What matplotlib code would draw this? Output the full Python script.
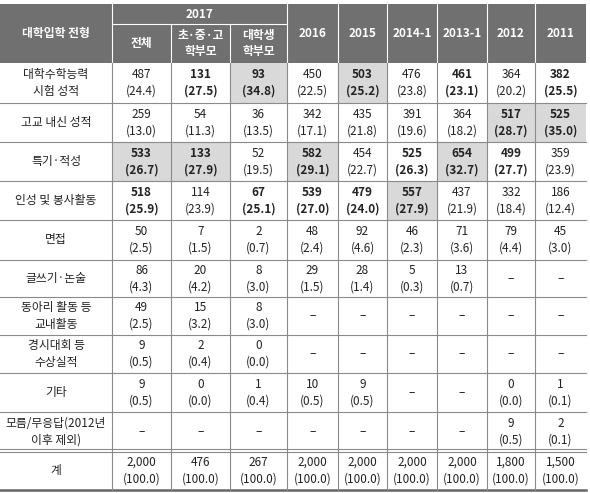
import matplotlib
matplotlib.use('Agg')
import matplotlib.pyplot as plt

plt.rcParams['font.family'] = ['Noto Sans CJK KR', 'DejaVu Sans']

# --- data ---
columns = ['전체', '초·중·고\n학부모', '대학생\n학부모', '2016', '2015', '2014-1', '2013-1', '2012', '2011']
categories = ['대학수학능력\n시험 성적', '고교 내신 성적', '특기·적성', '인성 및 봉사활동', '면접',
              '글쓰기·논술', '동아리 활동 등\n교내활동', '경시대회 등\n수상실적', '기타',
              '모름/무응답(2012년\n이후 제외)', '계']
counts = [
    ['487', '131', '93', '450', '503', '476', '461', '364', '382'],
    ['259', '54', '36', '342', '435', '391', '364', '517', '525'],
    ['533', '133', '52', '582', '454', '525', '654', '499', '359'],
    ['518', '114', '67', '539', '479', '557', '437', '332', '186'],
    ['50', '7', '2', '48', '92', '46', '71', '79', '45'],
    ['86', '20', '8', '29', '28', '5', '13', None, None],
    ['49', '15', '8', None, None, None, None, None, None],
    ['9', '2', '0', None, None, None, None, None, None],
    ['9', '0', '1', '10', '9', None, None, '0', '1'],
    [None, None, None, None, None, None, None, '9', '2'],
    ['2,000', '476', '267', '2,000', '2,000', '2,000', '2,000', '1,800', '1,500'],
]
pcts = [
    ['24.4', '27.5', '34.8', '22.5', '25.2', '23.8', '23.1', '20.2', '25.5'],
    ['13.0', '11.3', '13.5', '17.1', '21.8', '19.6', '18.2', '28.7', '35.0'],
    ['26.7', '27.9', '19.5', '29.1', '22.7', '26.3', '32.7', '27.7', '23.9'],
    ['25.9', '23.9', '25.1', '27.0', '24.0', '27.9', '21.9', '18.4', '12.4'],
    ['2.5', '1.5', '0.7', '2.4', '4.6', '2.3', '3.6', '4.4', '3.0'],
    ['4.3', '4.2', '3.0', '1.5', '1.4', '0.3', '0.7', None, None],
    ['2.5', '3.2', '3.0', None, None, None, None, None, None],
    ['0.5', '0.4', '0.0', None, None, None, None, None, None],
    ['0.5', '0.0', '0.4', '0.5', '0.5', None, None, '0.0', '0.1'],
    [None, None, None, None, None, None, None, '0.5', '0.1'],
    ['100.0'] * 9,
]
# (row, col) cells shaded grey and bold; bold-only cells
shaded = [(0, 2), (0, 4), (1, 7), (1, 8), (2, 0), (2, 1), (2, 3), (2, 6), (3, 5)]
bold_only = [(0, 1), (0, 6), (0, 8), (2, 5), (2, 7), (3, 0), (3, 2), (3, 3), (3, 4)]

# --- layout (pixels) ---
xs = [0, 112, 171, 230, 287, 338, 387, 437, 487, 535, 586]
ys = [63, 103, 142, 181, 220, 260, 297, 335, 373, 412, 451, 490]
top, sub = 4, 24

fig = plt.figure(figsize=(5.9, 4.93), dpi=100)
ax = fig.add_axes([0, 0, 1, 1])
ax.set_xlim(0, 590)
ax.set_ylim(493, 0)
ax.axis('off')

head = '#707070'
line = '#8a8a8a'
ax.add_patch(plt.Rectangle((0, top), xs[-1], ys[0] - top, color=head, lw=0))
ax.plot([xs[1], xs[4]], [sub, sub], color='white', lw=0.8)
for x in xs[1:-1]:
    y0 = sub if x in xs[2:4] else top
    ax.plot([x, x], [y0, ys[0]], color='white', lw=0.8)

hk = dict(color='white', ha='center', va='center', fontsize=8.5, fontweight='bold', linespacing=1.3)
ax.text(xs[1] / 2, (top + ys[0]) / 2, '대학입학 전형', **hk)
ax.text((xs[1] + xs[4]) / 2, (top + sub) / 2, '2017', **hk)
for j, c in enumerate(columns):
    yc = (sub + ys[0]) / 2 if j < 3 else (top + ys[0]) / 2
    ax.text((xs[j + 1] + xs[j + 2]) / 2, yc, c, **hk)

for (i, j) in shaded:
    ax.add_patch(plt.Rectangle((xs[j + 1], ys[i]), xs[j + 2] - xs[j + 1], ys[i + 1] - ys[i],
                               color='#d9d9d9', lw=0))

for i, cat in enumerate(categories):
    yc = (ys[i] + ys[i + 1]) / 2
    ax.text(xs[1] / 2, yc, cat, ha='center', va='center', fontsize=8.5, color='#222', linespacing=1.35)
    for j in range(9):
        xc = (xs[j + 1] + xs[j + 2]) / 2
        w = 'bold' if (i, j) in shaded or (i, j) in bold_only else 'normal'
        if counts[i][j] is None:
            ax.text(xc, yc, '–', ha='center', va='center', fontsize=8.5, color='#222')
        else:
            ax.text(xc, yc, f'{counts[i][j]}\n({pcts[i][j]})', ha='center', va='center',
                    fontsize=8.5, color='#222', fontweight=w, linespacing=1.35)

for y in ys[1:-2]:
    ax.plot([0, xs[-1]], [y, y], color=line, lw=0.8)
ax.plot([0, xs[-1]], [ys[-2] - 2, ys[-2] - 2], color=line, lw=0.8)
ax.plot([0, xs[-1]], [ys[-2] + 1, ys[-2] + 1], color=line, lw=0.8)
ax.plot([0, xs[-1]], [ys[-1], ys[-1]], color='#666', lw=1.8)
for x in xs[1:-1]:
    ax.plot([x, x], [ys[0], ys[-1]], color=line, lw=0.8)

fig.savefig('out.png', dpi=100)
